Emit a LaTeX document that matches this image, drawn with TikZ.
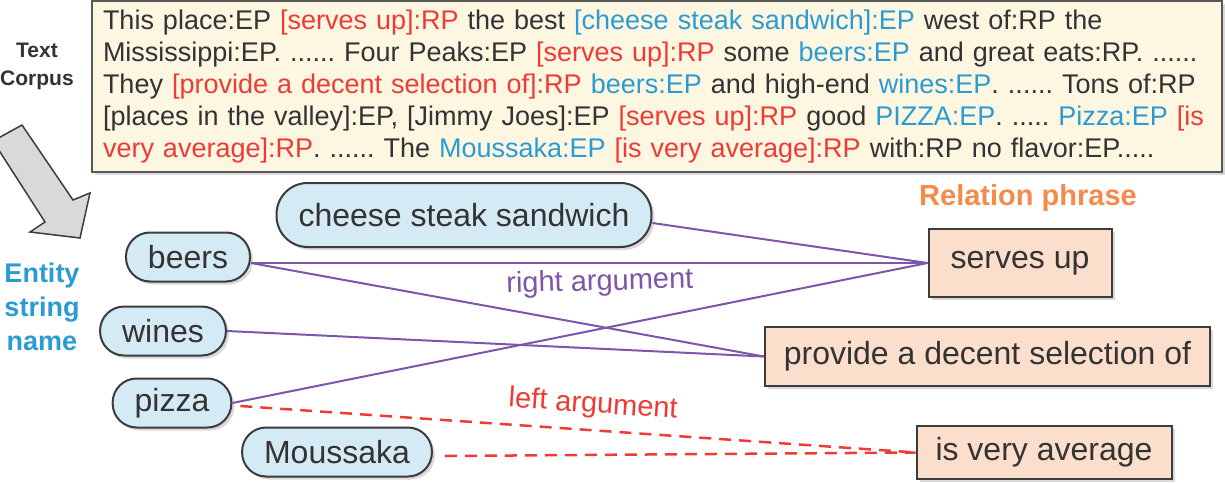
\documentclass[tikz,border=0pt]{standalone}
\usepackage{fontspec}
\setmainfont{Liberation Sans}
\usepackage{xcolor}
\usetikzlibrary{positioning,shadows}

\definecolor{txtgray}{HTML}{333333}
\definecolor{eblue}{HTML}{2A9BD3}
\definecolor{rred}{HTML}{EE3B36}
\definecolor{argpurple}{HTML}{7D55A9}
\definecolor{relorange}{HTML}{F58A4A}
\definecolor{entfill}{HTML}{D4EAF4}
\definecolor{relfill}{HTML}{FCDECC}
\definecolor{corpfill}{HTML}{FDF6E1}
\definecolor{edgegray}{HTML}{3C3C3C}
\definecolor{arrowgray}{HTML}{D9D9D9}

\newcommand{\rpart}[1]{\textcolor{rred}{#1}}
\newcommand{\epart}[1]{\textcolor{eblue}{#1}}
\frenchspacing

\begin{document}
\begin{tikzpicture}[x=1pt,y=1pt,
    softshadow/.style={drop shadow={shadow xshift=3pt,shadow yshift=-3pt,opacity=0.3}},
    corpusbox/.style={draw=edgegray!85,line width=2.5pt,fill=corpfill,softshadow,
      text width=1108pt,inner xsep=11pt,inner ysep=0pt,minimum height=171pt,
      align=left,text=txtgray,font=\fontsize{27}{32}\selectfont},
    entity/.style={draw=edgegray,line width=2pt,fill=entfill,softshadow,
      rounded corners=24pt,minimum height=49pt,inner xsep=22pt,inner ysep=0pt,
      text=txtgray,font=\fontsize{32}{36}\selectfont},
    relation/.style={draw=edgegray,line width=2pt,fill=relfill,softshadow,
      inner xsep=19pt,inner ysep=0pt,text=txtgray,font=\fontsize{32}{36}\selectfont},
    heading/.style={align=center,font=\bfseries\fontsize{27}{34}\selectfont},
    rightarg/.style={draw=argpurple,line width=2pt},
    leftarg/.style={draw=rred,line width=2.5pt,dash pattern=on 12pt off 8pt},
    arglabel/.style={font=\fontsize{29}{34}\selectfont}]

    \useasboundingbox (0,0) rectangle (1225,483);

    % corpus
    \node[corpusbox] (corpus) at (657,396.5) {This place:EP \rpart{[serves up]:RP} the best \epart{[cheese steak sandwich]:EP} west of:RP the\\
      Mississippi:EP. ...... Four Peaks:EP \rpart{[serves up]:RP} some \epart{beers:EP} and great eats:RP. ......\\
      They \rpart{[provide a decent selection of]:RP} \epart{beers:EP} and high-end \epart{wines:EP}. ...... Tons of:RP\\
      {}[places in the valley]:EP, [Jimmy Joes]:EP \rpart{[serves up]:RP} good \epart{PIZZA:EP}. ..... \epart{Pizza:EP} \rpart{[is}\\
      \rpart{very average]:RP}. ...... The \epart{Moussaka:EP} \rpart{[is very average]:RP} with:RP no flavor:EP.....};
    \node[heading,text=txtgray,font=\bfseries\fontsize{21}{28}\selectfont] (corpuslabel) at (37,417) {Text\\Corpus};
    \draw[line width=1.5pt,draw=edgegray,fill=arrowgray]
      (22,358) -- (73,283) -- (90,290) -- (80,245) -- (30,251) -- (45,261) -- (-7,342) -- cycle;

    % entity string names
    \node[heading,text=eblue] (entitylabel) at (42,176) {Entity\\string\\name};
    \node[entity,rounded corners=31pt,minimum height=64pt] (cheese) at (464,268) {cheese steak sandwich};
    \node[entity] (beers) at (188,226) {beers};
    \node[entity] (wines) at (163,152) {wines};
    \node[entity] (pizza) at (172,80) {pizza};
    \node[entity] (moussaka) at (337,31) {Moussaka};

    % relation phrases
    \node[heading,text=relorange,font=\bfseries\fontsize{29}{34}\selectfont] (rellabel) at (1028,285) {Relation phrase};
    \node[relation,minimum width=183pt,minimum height=68pt] (serves) at (1020,220) {serves up};
    \node[relation,minimum height=59pt] (provide) at (987.5,126.5) {provide a decent selection of};
    \node[relation,minimum height=53pt] (average) at (1044,30.5) {is very average};

    % arguments
    \draw[rightarg] ([yshift=-8pt]cheese.east) -- (serves.west);
    \draw[rightarg] ([yshift=-6pt]beers.east) -- node[pos=0.515,below=2pt,rotate=1.5,text=argpurple,arglabel] (rightlbl) {right argument} (serves.west);
    \draw[rightarg] ([yshift=-6pt]beers.east) -- (provide.west);
    \draw[rightarg] (wines.east) -- (provide.west);
    \draw[rightarg] (pizza.east) -- (serves.west);
    \draw[leftarg] ([shift={(8pt,-3pt)}]pizza.east) -- node[pos=0.52,above=7pt,sloped,text=rred,arglabel] (leftlbl) {left argument} (average.west);
    \draw[leftarg] ([shift={(12pt,-4pt)}]moussaka.east) -- (average.west);
\end{tikzpicture}
\end{document}
